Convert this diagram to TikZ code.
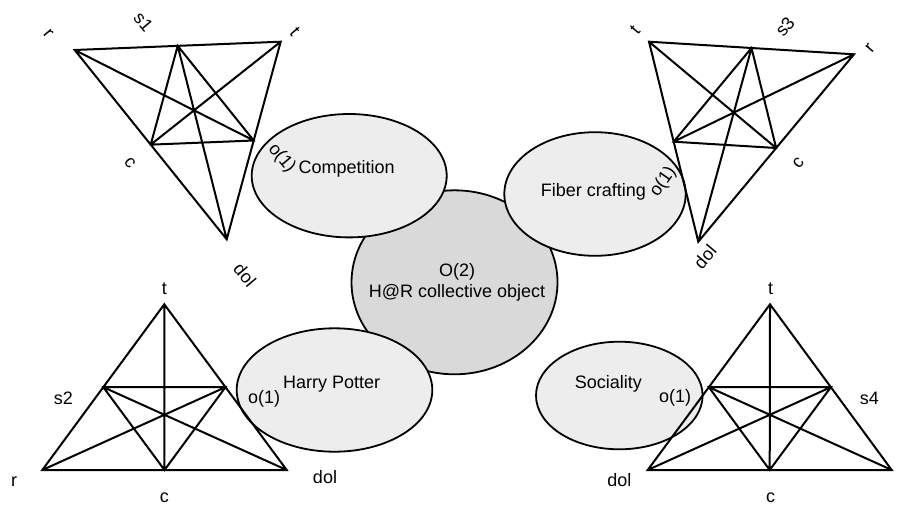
\documentclass[tikz,border=0pt]{standalone}
\usepackage{fontspec}
\setmainfont{Liberation Sans}
\usetikzlibrary{shapes.geometric,calc}

\tikzset{
  hub/.style={ellipse, draw, line width=0.9pt, fill=black!15, minimum width=103pt, minimum height=92pt, inner sep=0pt},
  topic/.style={ellipse, draw, line width=0.9pt, fill=black!7, inner sep=0pt},
  word/.style={inner sep=1pt, align=center, font=\fontsize{9}{10.5}\selectfont},
  tri/.style={line width=1pt, line join=miter}
}

\begin{document}
\begin{tikzpicture}[x=0.5pt, y=-0.5pt]
   \useasboundingbox (0,0) rectangle (903,504);
   % collective object and the four objects
   \node[hub] (o2) at (454.5,282.3) {};
   \node[topic, minimum width=97.5pt, minimum height=61.7pt] (comp) at (349.2,175.7) {};
   \node[topic, minimum width=90.7pt, minimum height=61.8pt] (fiber) at (595,194) {};
   \node[topic, minimum width=97.8pt, minimum height=61.7pt] (hp) at (334.5,390) {};
   \node[topic, minimum width=83.3pt, minimum height=53.8pt] (soc) at (619.3,395.5) {};
   \node[word] (o2_t) at (457,282.8) {O(2)\\H@R collective object};
   \node[word] (comp_t) at (346.7,169) {Competition};
   \node[word] (fiber_t) at (593.3,191.7) {Fiber crafting};
   \node[word] (hp_t) at (331.7,384.3) {Harry Potter};
   \node[word] (soc_t) at (608.3,384.3) {Sociality};
   \node[word, rotate=-50] (comp_o) at (281.7,158.3) {o(1)};
   \node[word, rotate=55] (fiber_o) at (663.3,181.7) {o(1)};
   \node[word] (hp_o) at (264,399) {o(1)};
   \node[word] (soc_o) at (675,398.3) {o(1)};

   % corners of the four triangles
   \coordinate (r1) at (74.7,50);
   \coordinate (t1) at (280.7,41.7);
   \coordinate (d1) at (226.7,239.3);
   \coordinate (r2) at (42.3,470);
   \coordinate (t2) at (164.3,304.3);
   \coordinate (d2) at (286.7,470);
   \coordinate (t3) at (649,41.7);
   \coordinate (r3) at (854,54.3);
   \coordinate (d3) at (698.3,241.7);
   \coordinate (d4) at (647.7,470);
   \coordinate (t4) at (770,304.3);
   \coordinate (r4) at (891.7,470);
   \foreach \i in {1,...,4} {
      \coordinate (rt\i) at ($(r\i)!0.5!(t\i)$);
      \coordinate (rd\i) at ($(r\i)!0.5!(d\i)$);
      \coordinate (td\i) at ($(t\i)!0.5!(d\i)$);
      \draw[tri] (r\i) -- (t\i) -- (d\i) -- cycle
                 (rt\i) -- (rd\i) -- (td\i) -- cycle
                 (t\i) -- (rd\i) (r\i) -- (td\i) (d\i) -- (rt\i);
   }

   % corner labels
   \node[word, rotate=-50] (l1r) at (48.3,33.3) {r};
   \node[word, rotate=-50] (l1s) at (143.3,21.7) {s1};
   \node[word, rotate=-50] (l1t) at (295,31.7) {t};
   \node[word, rotate=-50] (l1c) at (130,163.3) {c};
   \node[word, rotate=-50] (l1d) at (245,275) {dol};
   \node[word] (l2t) at (164.3,288.3) {t};
   \node[word] (l2s) at (63.3,398.3) {s2};
   \node[word] (l2r) at (14,481.7) {r};
   \node[word] (l2c) at (164.3,497.3) {c};
   \node[word] (l2d) at (325,477.3) {dol};
   \node[word, rotate=50] (l3t) at (635,30) {t};
   \node[word, rotate=50] (l3s) at (785,26.7) {s3};
   \node[word, rotate=50] (l3r) at (870,48.3) {r};
   \node[word, rotate=50] (l3c) at (798.3,163.3) {c};
   \node[word, rotate=50] (l3d) at (705,256.7) {dol};
   \node[word] (l4t) at (770.7,288.3) {t};
   \node[word] (l4s) at (869.3,398.3) {s4};
   \node[word] (l4d) at (619.3,480) {dol};
   \node[word] (l4c) at (770.7,497.3) {c};
\end{tikzpicture}
\end{document}
